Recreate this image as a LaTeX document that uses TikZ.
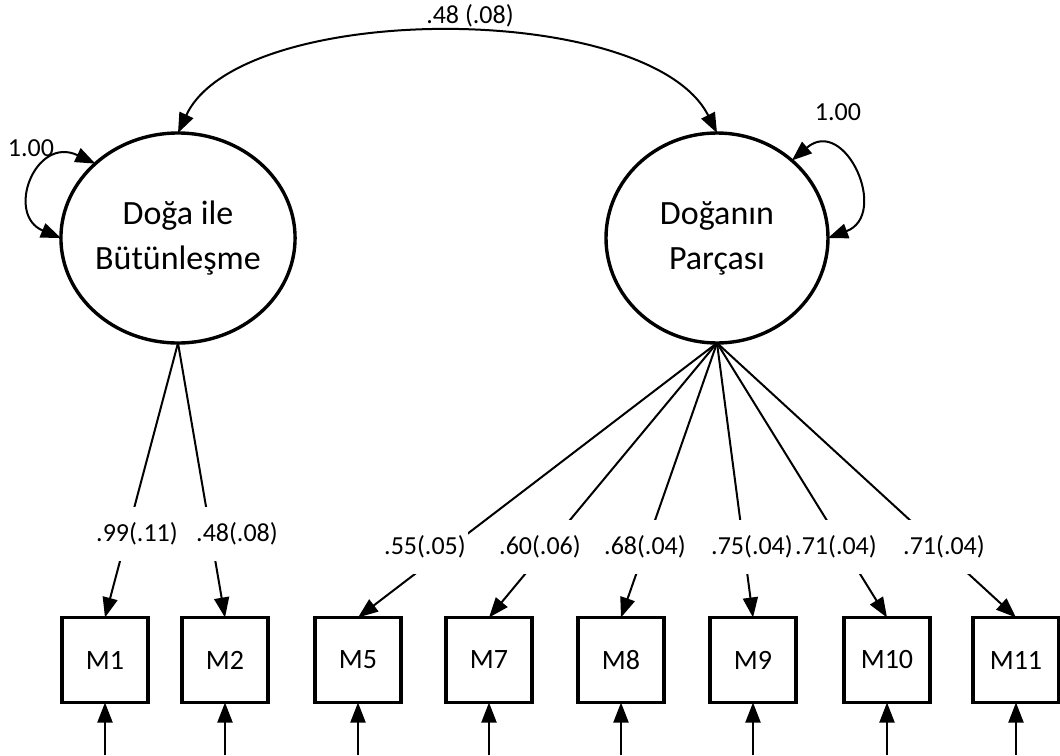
\documentclass[tikz,border=0pt]{standalone}
\usepackage{fontspec}
\setmainfont{Carlito}
\usetikzlibrary{shapes.geometric,arrows.meta}
\begin{document}
\begin{tikzpicture}[x=0.5pt,y=-0.5pt,
  latent/.style={ellipse,draw,line width=1.7pt,minimum width=111pt,minimum height=105pt,inner sep=0pt,outer sep=0pt,align=center,font=\fontsize{17}{22.5}\selectfont},
  obs/.style={rectangle,draw,line width=1.7pt,minimum width=43pt,minimum height=42.5pt,inner sep=0pt,outer sep=0pt,font=\fontsize{14}{16}\selectfont},
  arr/.style={line width=1pt,-{Triangle[length=10pt,width=7.5pt]}},
  darr/.style={line width=1pt,{Triangle[length=10pt,width=7.5pt]}-{Triangle[length=10pt,width=7.5pt]}},
  lab/.style={fill=white,inner xsep=1pt,minimum height=27pt,font=\fontsize{13}{15}\selectfont},
  txt/.style={inner sep=0pt,font=\fontsize{13}{15}\selectfont}]
\useasboundingbox (0,0) rectangle (1060,755);
% latent variables
\node[latent] (L1) at (178,238) {Doğa ile\\Bütünleşme};
\node[latent] (L2) at (717,238) {Doğanın\\Parçası};
% observed
\node[obs] (M1) at (105,660) {M1};
\node[obs] (M2) at (225,660) {M2};
\node[obs] (M5) at (358,660) {M5};
\node[obs] (M7) at (489,660) {M7};
\node[obs] (M8) at (621,660) {M8};
\node[obs] (M9) at (753,660) {M9};
\node[obs] (M10) at (887,660) {M10};
\node[obs] (M11) at (1016,660) {M11};
% loadings
\draw[arr] (L1.south) -- (M1.north);
\draw[arr] (L1.south) -- (M2.north);
\draw[arr] (L2.south) -- (M5.north);
\draw[arr] (L2.south) -- (M7.north);
\draw[arr] (L2.south) -- (M8.north);
\draw[arr] (L2.south) -- (M9.north);
\draw[arr] (L2.south) -- (M10.north);
\draw[arr] (L2.south) -- (M11.north);
% loading labels
\node[lab] (l1) at (137,534) {.99(.11)};
\node[lab] (l2) at (237,534) {.48(.08)};
\node[lab] (l5) at (425,547) {.55(.05)};
\node[lab] (l7) at (540,547) {.60(.06)};
\node[lab] (l8) at (645,547) {.68(.04)};
\node[lab] (l9) at (752,547) {.75(.04)};
\node[lab] (l10) at (836,547) {.71(.04)};
\node[lab] (l11) at (944,547) {.71(.04)};
% errors
\foreach \m in {M1,M2,M5,M7,M8,M9,M10,M11}{
  \coordinate (e\m) at (\m.south |- 0,755);
  \draw[arr] (e\m) -- (\m.south);
}
% covariance
\draw[darr] (L1.north) .. controls (240,0) and (650,0) .. (L2.north);
\node[txt] (cov) at (470,16) {.48 (.08)};
% variances
\draw[darr] (L1.138) .. controls (35,135) and (5,215) .. (L1.180);
\node[txt] (v1) at (31,148) {1.00};
\draw[darr] (L2.46) .. controls (845,115) and (890,215) .. (L2.0);
\node[txt] (v2) at (838,112) {1.00};
\end{tikzpicture}
\end{document}
